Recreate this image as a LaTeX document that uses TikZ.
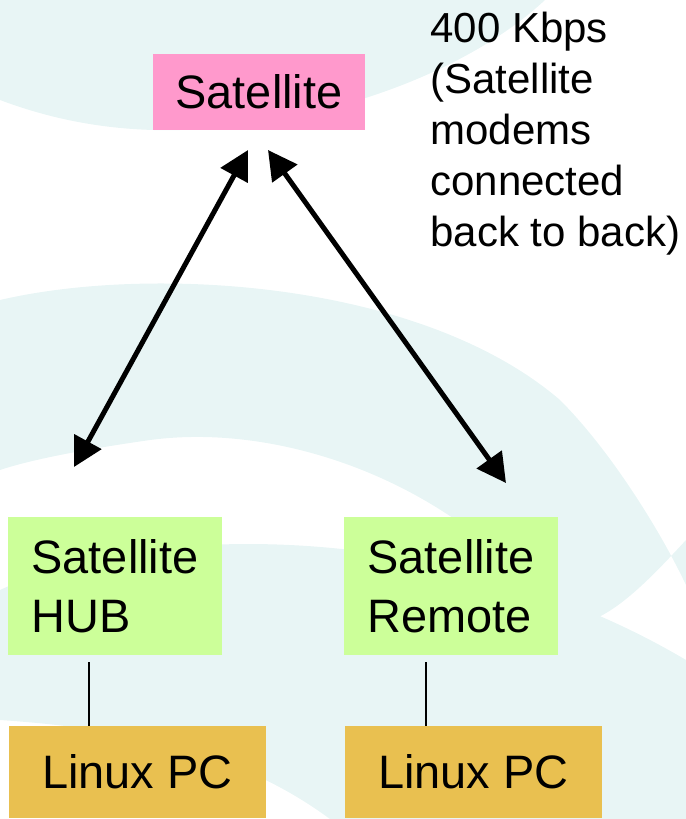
\documentclass[tikz,border=0pt]{standalone}
\usepackage{fontspec}
\setmainfont{Liberation Sans}
\usepackage{tikz}
\usetikzlibrary{arrows.meta}

\definecolor{bgteal}{RGB}{232,245,245}
\definecolor{satpink}{RGB}{255,153,204}
\definecolor{modemgreen}{RGB}{204,255,153}
\definecolor{pcgold}{RGB}{233,192,80}

\tikzset{
  box/.style={rectangle, inner sep=0pt, align=left,
    font=\fontsize{26.7pt}{33.5pt}\selectfont},
  link/.style={line width=0.1cm,
    {Triangle[length=0.58cm,width=0.6cm]}-{Triangle[length=0.58cm,width=0.6cm]}},
  wire/.style={line width=1.1pt}
}

\begin{document}
\begin{tikzpicture}[x=0.02cm, y=-0.02cm]
    \useasboundingbox (0,0) rectangle (686,819);
    \begin{scope}
      \clip (0,0) rectangle (686,819);
      \fill[bgteal] (0,0) -- (545,0)
        .. controls (470,70) and (330,125) .. (180,130)
        .. controls (100,132) and (40,115) .. (0,100) -- cycle;
      \fill[bgteal] (0,300)
        .. controls (150,265) and (420,280) .. (560,400)
        .. controls (610,450) and (660,530) .. (686,585)
        -- (686,540)
        .. controls (640,590) and (600,630) .. (560,625)
        .. controls (480,500) and (300,420) .. (150,440)
        .. controls (80,450) and (30,460) .. (0,470) -- cycle;
      \fill[bgteal] (0,590)
        .. controls (150,520) and (450,520) .. (686,660)
        -- (686,819) -- (330,819)
        .. controls (250,760) and (150,730) .. (0,720) -- cycle;
    \end{scope}
    \node[box, fill=satpink, minimum width=4.24cm, minimum height=1.52cm]
      (sat) at (259,92) {Satellite};
    \node[box, fill=modemgreen, minimum width=4.28cm, minimum height=2.76cm]
      (hub) at (115,586) {Satellite\\HUB};
    \node[box, fill=modemgreen, minimum width=4.28cm, minimum height=2.76cm]
      (remote) at (451,586) {Satellite\\Remote};
    \node[box, fill=pcgold, minimum width=5.14cm, minimum height=1.84cm]
      (pcl) at (137.5,772) {Linux PC};
    \node[box, fill=pcgold, minimum width=5.14cm, minimum height=1.84cm]
      (pcr) at (473.5,772) {Linux PC};
    \node[anchor=north west, inner sep=0pt, align=left,
      font=\fontsize{23.9pt}{29pt}\selectfont]
      (rate) at (430,12) {400 Kbps\\(Satellite\\modems\\connected\\back to back)};
    \coordinate (satl) at (248,150);
    \coordinate (satr) at (268,150);
    \coordinate (hubend) at (74,467);
    \coordinate (remend) at (506,483);
    \draw[link] (satl) -- (hubend);
    \draw[link] (satr) -- (remend);
    \draw[wire] ([xshift=-0.52cm, yshift=-0.14cm]hub.south)
      -- ([xshift=-0.52cm]hub.south |- pcl.north);
    \draw[wire] ([xshift=-0.5cm, yshift=-0.14cm]remote.south)
      -- ([xshift=-0.5cm]remote.south |- pcr.north);
\end{tikzpicture}
\end{document}
